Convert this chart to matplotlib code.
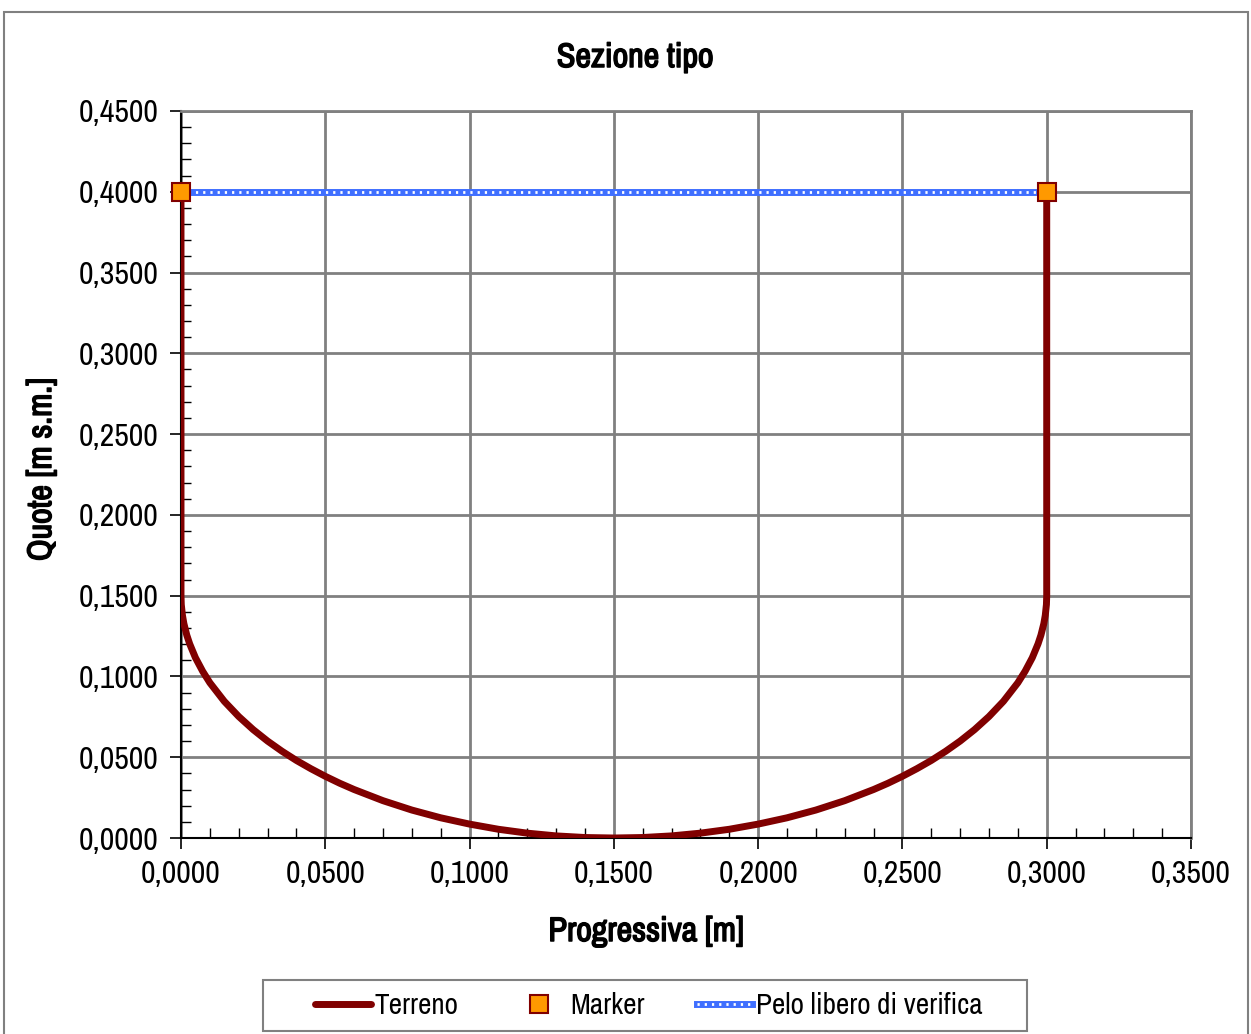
import matplotlib.pyplot as plt
import matplotlib.patheffects as pe
from matplotlib.patches import Rectangle
from matplotlib.ticker import FuncFormatter, MultipleLocator
from matplotlib import font_manager

# sezione: pareti verticali + fondo circolare
terreno_x = [0.0, 0.0, 0.0001, 0.0005, 0.001, 0.002, 0.003, 0.005, 0.0075, 0.01,
             0.015, 0.02, 0.025, 0.03, 0.035, 0.04, 0.045, 0.05, 0.055, 0.06,
             0.07, 0.08, 0.09, 0.10, 0.11, 0.12, 0.13, 0.14, 0.15,
             0.16, 0.17, 0.18, 0.19, 0.20, 0.21, 0.22, 0.23, 0.24, 0.245,
             0.25, 0.255, 0.26, 0.265, 0.27, 0.275, 0.28, 0.285, 0.29, 0.2925,
             0.295, 0.297, 0.298, 0.299, 0.2995, 0.2999, 0.30, 0.30]
terreno_y = [0.40, 0.15, 0.1445, 0.1378, 0.1327, 0.1256, 0.1202, 0.1116, 0.1032, 0.0961,
             0.0846, 0.0752, 0.0671, 0.0600, 0.0537, 0.0480, 0.0429, 0.0382, 0.0339, 0.0300,
             0.0231, 0.0173, 0.0125, 0.0086, 0.0054, 0.0030, 0.0013, 0.0003, 0.0,
             0.0003, 0.0013, 0.0030, 0.0054, 0.0086, 0.0125, 0.0173, 0.0231, 0.0300, 0.0339,
             0.0382, 0.0429, 0.0480, 0.0537, 0.0600, 0.0671, 0.0752, 0.0846, 0.0961, 0.1032,
             0.1116, 0.1202, 0.1256, 0.1327, 0.1378, 0.1445, 0.15, 0.40]

marker_x = [0.0, 0.30]
marker_y = [0.40, 0.40]

pelo_x = [0.0, 0.30]
pelo_y = [0.40, 0.40]

fam = 'DejaVu Sans'
for cand in ['Liberation Sans Narrow', 'Archivo Narrow', 'Roboto Condensed', 'Liberation Sans']:
    try:
        font_manager.findfont(cand, fallback_to_default=False)
        fam = cand
        break
    except Exception:
        pass
plt.rcParams['font.family'] = [fam, 'DejaVu Sans']

# grassetto simulato (il font narrow non ha il peso bold)
bold_fx = [pe.withStroke(linewidth=1.1, foreground='black')]

fig = plt.figure(figsize=(12.51, 10.34), dpi=100)
fig.patches.append(Rectangle((4 / 1251, -0.1), 1244 / 1251, 1.1 - 12 / 1034,
                             transform=fig.transFigure, fill=False,
                             edgecolor='#808080', lw=1.5))
# riquadro legenda
fig.patches.append(Rectangle((263 / 1251, 1 - 1031 / 1034), 764 / 1251, 51 / 1034,
                             transform=fig.transFigure, fill=False,
                             edgecolor='#808080', lw=1.5))

ax = fig.add_axes([181 / 1251, 1 - 838 / 1034, 1010 / 1251, 727 / 1034])

dark_red = '#800000'
blue = '#3F6FFF'

l_terr, = ax.plot(terreno_x, terreno_y, color=dark_red, lw=5,
                  solid_capstyle='round', solid_joinstyle='round', zorder=3)
l_pelo1, = ax.plot(pelo_x, pelo_y, color=blue, lw=5, zorder=4)
l_pelo2, = ax.plot(pelo_x, pelo_y, color='white', lw=2, ls=(0, (0.8, 1.8)), zorder=5)
l_mark, = ax.plot(marker_x, marker_y, ls='none', marker='s', ms=13,
                  mfc='#FF9900', mec=dark_red, mew=1.5, zorder=6, clip_on=False)

ax.set_xlim(0, 0.35)
ax.set_ylim(0, 0.45)
ax.xaxis.set_major_locator(MultipleLocator(0.05))
ax.yaxis.set_major_locator(MultipleLocator(0.05))
ax.xaxis.set_minor_locator(MultipleLocator(0.01))
ax.yaxis.set_minor_locator(MultipleLocator(0.01))
fmt = FuncFormatter(lambda v, p: f'{v:.4f}'.replace('.', ','))
ax.xaxis.set_major_formatter(fmt)
ax.yaxis.set_major_formatter(fmt)

ax.grid(True, which='major', color='#808080', lw=2)
ax.set_axisbelow(True)
ax.tick_params(which='major', direction='out', length=8, width=1.2,
               labelsize=23, pad=8)
ax.tick_params(which='minor', direction='in', length=7, width=1)
for s in ['top', 'right']:
    ax.spines[s].set_color('#808080')
    ax.spines[s].set_linewidth(2)
for s in ['left', 'bottom']:
    ax.spines[s].set_color('black')
    ax.spines[s].set_linewidth(1.5)

fig.text(635 / 1251, 1 - 58 / 1034, 'Sezione tipo', ha='center', va='center',
         fontsize=24.5, path_effects=bold_fx)
fig.text(646 / 1251, 1 - 932 / 1034, 'Progressiva [m]', ha='center', va='center',
         fontsize=24.5, path_effects=bold_fx)
fig.text(42 / 1251, 1 - 470 / 1034, 'Quote [m s.m.]', ha='center', va='center',
         rotation=90, fontsize=24.5, path_effects=bold_fx)

leg = fig.legend([l_terr, l_mark, (l_pelo1, l_pelo2)],
                 ['Terreno', 'Marker', 'Pelo libero di verifica'],
                 loc='center', bbox_to_anchor=(649 / 1251, 1 - 1006 / 1034),
                 ncol=3, fontsize=21, frameon=False,
                 handlelength=1.9, handletextpad=0.13,
                 columnspacing=1.8, borderpad=0.3, borderaxespad=0)

fig.savefig('out.png', dpi=100)
